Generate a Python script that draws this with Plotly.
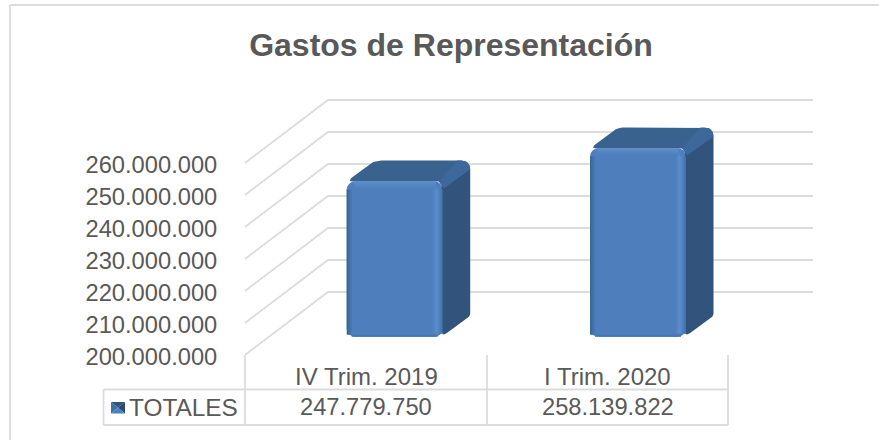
import math
import plotly.graph_objects as go

# ---------- data ----------
categories = ["IV Trim. 2019", "I Trim. 2020"]
series_name = "TOTALES"
values = [247779750, 258139822]
tick_values = [200000000, 210000000, 220000000, 230000000, 240000000, 250000000, 260000000]
title_text = "Gastos de Representación"

# ---------- layout constants ----------
W, H = 879, 440
L, R, T, B = 245, 813, 90, 355          # plot area in pixels
PX_PER_X = 243.3                         # pixels per category step
PX_PER_Y = 3.2e-6                        # pixels per unit of value
X0_VAL = (L - 394.7) / PX_PER_X
X1_VAL = (R - 394.7) / PX_PER_X
Y0_VAL = tick_values[0]
Y1_VAL = Y0_VAL + (B - T) / PX_PER_Y

WALL_DX, WALL_DY = 83 / PX_PER_X, 63 / PX_PER_Y     # depth of chart floor
BAR_DX, BAR_DY = 27.5 / PX_PER_X, 21 / PX_PER_Y     # depth of a bar
BAR_W = 96 / PX_PER_X
BASE_VAL = Y0_VAL + 18.3 / PX_PER_Y                  # bars sit mid depth
TOP_SHIFT = 20.5 / PX_PER_Y

GRID = "#DCDCDC"
TEXT = "#595959"
FONT = "Liberation Sans, Arial, sans-serif"


def px(x):
    return (x - L) / (R - L)


def py(y):
    return (B - y) / (B - T)


def rounded(points, radii, steps=6):
    """Round polygon corners (radii in pixels), returns data coordinates."""
    pp = [(x * PX_PER_X, y * PX_PER_Y) for x, y in points]
    out = []
    n = len(pp)
    for i in range(n):
        p, a, b = pp[i], pp[i - 1], pp[(i + 1) % n]
        r = radii[i]
        if r <= 0:
            out.append(p)
            continue
        da, db = math.dist(p, a), math.dist(p, b)
        s = (p[0] + (a[0] - p[0]) * r / da, p[1] + (a[1] - p[1]) * r / da)
        e = (p[0] + (b[0] - p[0]) * r / db, p[1] + (b[1] - p[1]) * r / db)
        for k in range(steps + 1):
            t = k / steps
            out.append(((1 - t) ** 2 * s[0] + 2 * t * (1 - t) * p[0] + t ** 2 * e[0],
                        (1 - t) ** 2 * s[1] + 2 * t * (1 - t) * p[1] + t ** 2 * e[1]))
    return [q[0] / PX_PER_X for q in out] + [out[0][0] / PX_PER_X], \
           [q[1] / PX_PER_Y for q in out] + [out[0][1] / PX_PER_Y]


def poly(xs, ys, color=None, gradient=None):
    kw = dict(fillgradient=gradient) if gradient else dict(fillcolor=color)
    return go.Scatter(x=xs, y=ys, mode="lines", fill="toself", line=dict(width=0),
                      hoverinfo="skip", showlegend=False, **kw)


def strip(x0, x1, y0, y1, orient, c0, c1):
    start, stop = (x0, x1) if orient == "horizontal" else (y0, y1)
    return poly([x0, x1, x1, x0, x0], [y0, y0, y1, y1, y0],
                gradient=dict(type=orient, start=start, stop=stop,
                              colorscale=[[0, c0], [1, c1]]))


fig = go.Figure()

# front faces
idx = list(range(len(values)))
fig.add_trace(go.Bar(
    x=idx, y=[v + TOP_SHIFT - BASE_VAL for v in values], base=BASE_VAL, width=BAR_W,
    name=series_name, marker=dict(color="#4E7FBC", line=dict(width=0), cornerradius=8),
    hovertemplate="%{customdata}<extra></extra>", customdata=values, showlegend=False))

ex = 1 / PX_PER_X
ey = 1 / PX_PER_Y
for i, v in zip(idx, values):
    x0, x1 = i - BAR_W / 2, i + BAR_W / 2
    top, base = v + TOP_SHIFT, BASE_VAL
    # side face
    xs, ys = rounded([(x1 - 1 * ex, top), (x1 + BAR_DX, top + BAR_DY), (x1 + BAR_DX, base + BAR_DY), (x1 - 1 * ex, base)],
                     [0, 9, 2, 6])
    fig.add_trace(poly(xs, ys, "#31537C"))
    # top face
    xs, ys = rounded([(x0, top), (x0 + BAR_DX, top + BAR_DY), (x1 + BAR_DX, top + BAR_DY), (x1, top)],
                     [7, 7, 9, 0])
    fig.add_trace(poly(xs, ys, "#3A628F"))
    # lighter ridge of the top face
    xs, ys = rounded([(x1 - 4 * ex, top), (x1 + BAR_DX - 13 * ex, top + BAR_DY),
                      (x1 + BAR_DX, top + BAR_DY), (x1 + BAR_DX, top + BAR_DY - 9 * ey), (x1 + 1 * ex, top - 7 * ey)],
                     [0, 0, 9, 0, 0])
    fig.add_trace(poly(xs, ys, "#3C689B"))
    # bevel of the front face
    fig.add_trace(strip(x0, x0 + 6 * ex, base + 2 * ey, top - 8 * ey, "horizontal", "#346498", "#4E7FBC"))
    fig.add_trace(strip(x1 - 11 * ex, x1 - 6 * ex, base + 3 * ey, top - 5 * ey, "horizontal", "#4E7FBC", "#5A8ECC"))
    fig.add_trace(strip(x1 - 6 * ex, x1, base + 3 * ey, top - 8 * ey, "horizontal", "#5A8ECC", "#3F70A6"))
    fig.add_trace(strip(x0 + 7 * ex, x1 - 7 * ex, top - 7 * ey, top, "vertical", "#4E7FBC", "#5A8ECE"))
    fig.add_trace(strip(x0 + 5 * ex, x1 - 5 * ex, base, base + 3 * ey, "vertical", "#3F71AC", "#4E7FBC"))

shapes = []
# perspective gridlines
for t in tick_values:
    shapes.append(dict(type="path", xref="x", yref="y", layer="below",
                       path=f"M {X0_VAL},{t} L {X0_VAL + WALL_DX},{t + WALL_DY} L {X1_VAL},{t + WALL_DY}",
                       line=dict(color=GRID, width=1.8)))


def pline(x0, y0, x1, y1, color=GRID, width=1.8):
    shapes.append(dict(type="line", xref="paper", yref="paper", x0=px(x0), y0=py(y0), x1=px(x1), y1=py(y1),
                       line=dict(color=color, width=width)))


# outer frame
pline(10, 5, W, 5)
pline(10, 5, 10, H)

# data table
for x in (245, 487, 728):
    pline(x, 355, x, 425)
pline(103.5, 389.5, 728, 389.5)
pline(103.5, 425, 728, 425)
pline(103.5, 389.5, 103.5, 425)


# legend key
def tri(pts, color):
    path = "M " + " L ".join(f"{px(a)},{py(b)}" for a, b in pts) + " Z"
    shapes.append(dict(type="path", xref="paper", yref="paper", path=path, fillcolor=color, line=dict(width=0)))


kx0, kx1, ky0, ky1 = 111, 125, 402, 413.5
kcx, kcy = (kx0 + kx1) / 2, (ky0 + ky1) / 2
tri([(kx0, ky0), (kx1, ky0), (kcx, kcy)], "#31537C")
tri([(kx0, ky0), (kx0, ky1), (kcx, kcy)], "#3F6FA8")
tri([(kx1, ky0), (kx1, ky1), (kcx, kcy)], "#2A4A70")
tri([(kx0, ky1), (kx1, ky1), (kcx, kcy)], "#4E7FBC")

annotations = []


def note(text, x, y, anchor="center", size=23.7):
    annotations.append(dict(text=text, xref="paper", yref="paper", x=px(x), y=py(y), showarrow=False,
                            xanchor=anchor, yanchor="middle", font=dict(family=FONT, size=size, color=TEXT)))


for cx, cat, v in zip((366, 607.5), categories, values):
    note(cat, cx, 376, size=24)
    note(f"{v:,}".replace(",", "."), cx, 407)
note(series_name, 127, 407, "left", size=24.4)

fig.update_layout(
    width=W, height=H, autosize=False,
    margin=dict(l=L, r=W - R, t=T, b=H - B, pad=0),
    paper_bgcolor="white", plot_bgcolor="rgba(0,0,0,0)",
    separators=",.", showlegend=False, barmode="overlay",
    title=dict(text=f"<b>{title_text}</b>", x=451 / W, xanchor="center", y=1 - 45 / H, yanchor="middle",
               font=dict(family=FONT, size=32, color=TEXT)),
    xaxis=dict(range=[X0_VAL, X1_VAL], visible=False, fixedrange=True),
    yaxis=dict(range=[Y0_VAL, Y1_VAL], tickvals=tick_values, tickformat=",d", showgrid=False, zeroline=False,
               showline=False, ticks="outside", ticklen=22, tickcolor="rgba(0,0,0,0)", fixedrange=True,
               ticklabelshift=2, tickfont=dict(family=FONT, size=23.7, color=TEXT)),
    shapes=shapes, annotations=annotations,
)

fig.write_html("out.html", config=dict(displayModeBar=False),
               post_script="document.body.style.margin='0';document.documentElement.style.overflow='hidden';")
